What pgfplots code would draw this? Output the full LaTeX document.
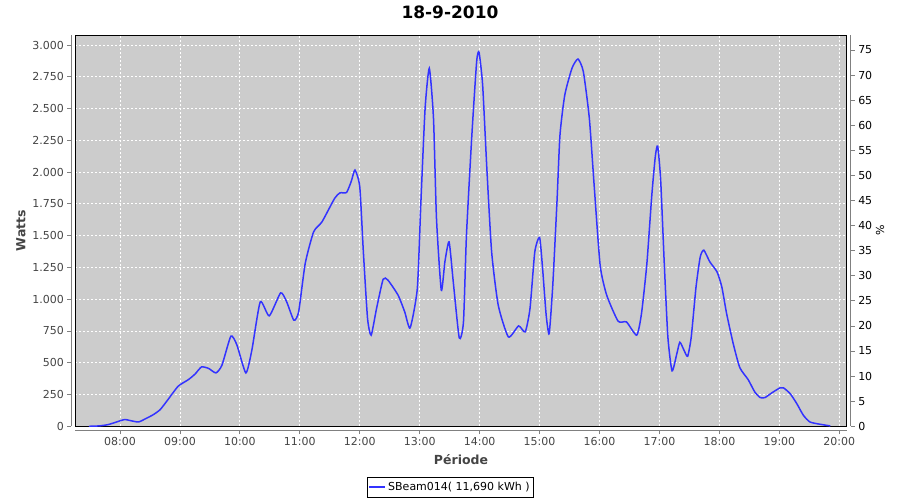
\documentclass[border=0pt]{standalone}
\usepackage{fontspec}
\setmainfont{DejaVu Sans}
\usepackage{pgfplots}
\pgfplotsset{compat=1.18}

\definecolor{plotbg}{RGB}{204,204,204}
\definecolor{serie}{RGB}{51,51,255}
\definecolor{axgray}{RGB}{128,128,128}
\definecolor{lbl}{RGB}{68,68,68}

\pgfplotsset{
  jfc/.style={
    scale only axis,
    width=771.4pt, height=391.3pt,
    anchor=south west,
    tick label style={font=\fontsize{11}{13}\selectfont},
    /pgf/number format/assume math mode=true,
  },
}

\begin{document}
\begin{tikzpicture}
\useasboundingbox (0,0) rectangle (900pt,500pt);

% plot area
\begin{axis}[jfc,
    at={(75.3pt,73.7pt)},
    xmin=7.2543, xmax=20.1235,
    ymin=0, ymax=3079,
    xtick={8,...,20}, ytick={0,250,...,3000},
    xticklabels={}, yticklabels={},
    major tick length=0pt,
    grid=major,
    grid style={white, line width=0.8pt, dash pattern=on 2pt off 2pt},
    axis background/.style={fill=plotbg},
    axis line style={black, line width=0.9pt},
    title={\fontsize{17}{20}\selectfont\bfseries 18-9-2010},
    title style={at={(0.4857,1)}, anchor=center, yshift=16.4pt},
    legend style={at={(0.4857,-0.1559)}, anchor=center, draw=black,
      font=\fontsize{11}{13}\selectfont,
      inner xsep=1.5pt, inner ysep=3pt},
]
\addplot[serie, line width=1.5pt, smooth, tension=0.35,
  legend image code/.code={\draw[serie, line width=2pt] (0pt,0pt) -- (16pt,0pt);}] coordinates {
(7.48,0) (7.65,3) (7.80,13) (7.95,35) (8.08,53) (8.20,42) (8.31,34)
(8.42,58) (8.55,90) (8.67,131) (8.80,210) (8.97,315) (9.14,367)
(9.25,410) (9.36,467) (9.48,455) (9.60,420) (9.70,480) (9.85,709)
(9.95,640) (10.10,420) (10.20,600) (10.34,979) (10.49,869) (10.68,1050)
(10.78,980) (10.90,835) (10.98,900) (11.09,1281) (11.23,1530) (11.37,1609)
(11.58,1793) (11.67,1837) (11.78,1840) (11.86,1930) (11.92,2016) (12.00,1884)
(12.06,1372) (12.13,848) (12.19,717) (12.28,927) (12.39,1157) (12.47,1150)
(12.64,1031) (12.75,900) (12.84,774) (12.96,1084) (13.02,1766) (13.09,2501)
(13.16,2817) (13.23,2423) (13.28,1635) (13.36,1071) (13.42,1294) (13.49,1451)
(13.56,1136) (13.66,695) (13.73,821) (13.78,1504) (13.87,2291) (13.95,2869)
(13.99,2942) (14.05,2685) (14.12,2029) (14.20,1372) (14.31,953) (14.48,703)
(14.65,790) (14.76,743) (14.84,927) (14.92,1372) (15.00,1486) (15.05,1242)
(15.11,874) (15.16,730) (15.22,1110) (15.29,1766) (15.34,2291) (15.42,2606)
(15.54,2817) (15.64,2890) (15.73,2790) (15.83,2423) (15.91,1898) (16.01,1268)
(16.12,1031) (16.31,827) (16.45,821) (16.62,717) (16.70,887) (16.79,1281)
(16.87,1806) (16.93,2121) (16.97,2205) (17.02,1937) (17.08,1281) (17.14,703)
(17.21,436) (17.29,572) (17.34,661) (17.41,598) (17.47,551) (17.53,703)
(17.61,1097) (17.68,1333) (17.74,1386) (17.84,1294) (17.96,1215) (18.04,1097)
(18.12,887) (18.23,651) (18.34,462) (18.48,367) (18.59,270) (18.68,226)
(18.76,226) (18.88,265) (19.01,302) (19.07,302) (19.18,257) (19.29,179)
(19.40,87) (19.51,34) (19.68,16) (19.85,3)
};
\addlegendentry{SBeam014( 11,690 kWh )}
\end{axis}

% left axis (Watts), offset from the plot
\begin{axis}[jfc,
    at={(71.3pt,73.7pt)},
    hide x axis, axis y line*=left,
    xmin=0, xmax=1, ymin=0, ymax=3079,
    ytick={0,250,...,3000},
    yticklabels={0,250,500,750,1.000,1.250,1.500,1.750,2.000,2.250,2.500,2.750,3.000},
    tick align=outside, major tick length=4pt,
    axis line style={axgray, line width=0.8pt},
    tick style={axgray, line width=0.8pt},
    tick label style={text=lbl},
    ylabel={\fontsize{12.5}{15}\selectfont\bfseries Watts},
    ylabel style={at={(0,0.5)}, anchor=center, yshift=50.3pt, text=lbl},
]
\end{axis}

% bottom axis (time), offset from the plot
\begin{axis}[jfc,
    at={(75.3pt,69.7pt)},
    hide y axis, axis x line*=bottom,
    xmin=7.2543, xmax=20.1235, ymin=0, ymax=1,
    xtick={8,...,20},
    xticklabels={08:00,09:00,10:00,11:00,12:00,13:00,14:00,15:00,16:00,17:00,18:00,19:00,20:00},
    tick align=outside, major tick length=4pt,
    axis line style={axgray, line width=0.8pt},
    tick style={axgray, line width=0.8pt},
    tick label style={text=lbl},
    xlabel={\fontsize{12.5}{15}\selectfont\bfseries Période},
    xlabel style={at={(0.5,0)}, anchor=center, yshift=-29.7pt, text=lbl},
]
\end{axis}

% right axis (%)
\begin{axis}[jfc,
    at={(79.3pt,73.7pt)},
    hide x axis, axis y line*=right,
    xmin=0, xmax=1, ymin=0, ymax=78,
    ytick={0,5,...,75},
    tick align=outside, major tick length=4pt,
    axis line style={axgray, line width=0.8pt},
    tick style={axgray, line width=0.8pt},
    ylabel={\fontsize{11}{13}\selectfont\%},
    ylabel style={at={(1,0.5)}, anchor=center, yshift=-29.3pt},
]
\end{axis}
\end{tikzpicture}
\end{document}
